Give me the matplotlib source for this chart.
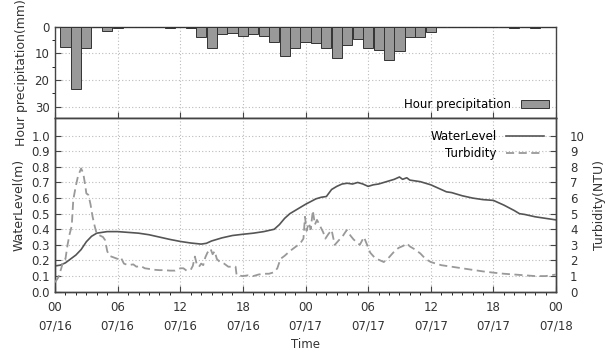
import numpy as np
import matplotlib.pyplot as plt
from matplotlib.ticker import MultipleLocator

plt.rcParams['font.family'] = 'DejaVu Sans'
plt.rcParams['font.size'] = 8.5

# hourly precipitation (mm), hour ending at 1..48 from 07/16 00:00
rain_hours = np.arange(1, 49)
rain_mm = [7.5, 23.5, 7.8, 0, 1.5, 0.6, 0, 0, 0, 0, 0.6, 0, 0.5, 3.75, 7.8, 2.9,
           2.2, 3.4, 2.9, 3.5, 5.9, 11.0, 7.8, 5.7, 6.2, 7.8, 11.6, 6.9, 4.5, 7.8,
           8.7, 12.6, 9.0, 3.75, 3.75, 1.9, 0, 0, 0, 0, 0, 0, 0.3, 0.5, 0.3, 0.5, 0, 0]

# water level (m)
wl_t = [0, 0.5, 1, 1.5, 2, 2.5, 3, 3.5, 4, 4.5, 5, 6, 7, 8, 9, 10, 11, 12, 13, 14,
        14.5, 15, 16, 17, 18, 19, 20, 21, 21.5, 22, 22.5, 23, 24, 25, 25.5, 26, 26.5,
        27, 27.5, 28, 28.5, 29, 29.5, 30, 30.5, 31, 31.5, 32, 32.5, 33, 33.3, 33.7, 34,
        34.5, 35, 35.5, 36, 36.5, 37, 37.5, 38, 38.5, 39, 40, 41, 42, 43, 44, 44.5, 45,
        46, 47, 48]
wl_m = [0.165, 0.17, 0.185, 0.21, 0.235, 0.27, 0.32, 0.355, 0.375, 0.38, 0.385, 0.385,
        0.38, 0.375, 0.365, 0.35, 0.335, 0.322, 0.312, 0.305, 0.31, 0.325, 0.345, 0.36,
        0.368, 0.375, 0.385, 0.40, 0.43, 0.47, 0.50, 0.52, 0.56, 0.595, 0.605, 0.61,
        0.655, 0.675, 0.69, 0.695, 0.69, 0.70, 0.69, 0.675, 0.685, 0.69, 0.70, 0.71,
        0.72, 0.735, 0.72, 0.73, 0.715, 0.71, 0.705, 0.695, 0.685, 0.67, 0.655, 0.64,
        0.635, 0.625, 0.615, 0.60, 0.59, 0.585, 0.555, 0.52, 0.50, 0.495, 0.48, 0.47, 0.46]

# turbidity (NTU)
tb_t = [0, 0.3, 0.6, 0.8, 1.0, 1.2, 1.4, 1.6, 1.75, 2.0, 2.2, 2.5, 2.7, 2.9, 3.0, 3.2,
        3.4, 3.6, 3.8, 4.0, 4.3, 4.6, 4.8, 5.0, 5.2, 5.6, 6.0, 6.3, 6.6, 7.0, 7.5, 7.8,
        8.2, 8.6, 9.1, 9.6, 10, 10.5, 11, 11.5, 12, 12.3, 12.6, 13, 13.2, 13.4, 13.6,
        13.8, 14.0, 14.2, 14.4, 14.6, 14.9, 15.1, 15.3, 15.5, 15.8, 16.2, 16.6, 17.0,
        17.3, 17.4, 18, 18.5, 19, 19.5, 20, 20.5, 21, 21.3, 21.6, 22, 22.5, 23, 23.5,
        23.8, 23.95, 24.1, 24.3, 24.5, 24.7, 24.9, 25.1, 25.4, 25.7, 25.9, 26.2, 26.5,
        26.8, 27.2, 27.6, 27.95, 28.3, 28.6, 29.2, 29.6, 29.9, 30.2, 30.6, 31.0, 31.5,
        32, 32.4, 32.9, 33.4, 33.7, 34.0, 34.5, 35, 35.5, 36, 36.5, 37, 37.5, 38, 39,
        40, 41, 42, 43, 44, 45, 46, 47, 48]
tb_ntu = [0.6, 0.9, 1.5, 2.0, 2.1, 3.0, 3.7, 4.2, 5.9, 6.8, 7.4, 7.9, 7.6, 6.8, 6.3,
          6.2, 5.6, 4.8, 4.2, 3.7, 3.6, 3.5, 3.3, 2.6, 2.3, 2.2, 2.1, 2.2, 1.8, 1.7,
          1.75, 1.6, 1.65, 1.5, 1.45, 1.4, 1.38, 1.38, 1.35, 1.35, 1.5, 1.5, 1.35, 1.4,
          1.65, 2.25, 1.7, 1.6, 1.8, 1.7, 2.2, 2.5, 2.75, 2.4, 2.6, 2.1, 1.9, 1.8, 1.6,
          1.6, 1.6, 1.05, 1.0, 1.05, 1.0, 1.1, 1.15, 1.15, 1.25, 1.5, 2.1, 2.3, 2.6,
          2.85, 3.1, 3.4, 4.8, 3.9, 4.4, 4.0, 5.2, 4.3, 4.6, 4.2, 3.8, 3.4, 3.7, 3.95,
          3.0, 3.3, 3.6, 3.95, 3.6, 3.35, 3.0, 3.5, 3.0, 2.5, 2.2, 2.05, 1.9, 2.2, 2.5,
          2.8, 2.95, 3.1, 2.9, 2.7, 2.45, 2.1, 1.9, 1.8, 1.7, 1.65, 1.6, 1.5, 1.4, 1.3,
          1.22, 1.15, 1.1, 1.05, 1.0, 1.0, 1.1]

tick_hours = np.arange(0, 49, 6)
tick_labels = ['00\n07/16', '06\n07/16', '12\n07/16', '18\n07/16',
               '00\n07/17', '06\n07/17', '12\n07/17', '18\n07/17', '00\n07/18']

txt = '#333333'
frame = '#444444'
grid_kw = dict(color='#bbbbbb', linestyle=(0, (1, 2)), linewidth=0.8)

fig = plt.figure(figsize=(6.06, 3.53), dpi=100)
ax1 = fig.add_axes([0.0908, 0.6657, 0.8267, 0.2587])
ax2 = fig.add_axes([0.0908, 0.1737, 0.8267, 0.4920])
ax3 = ax2.twinx()

def style(ax):
    for s in ax.spines.values():
        s.set_color(frame)
        s.set_linewidth(1.0)
    ax.tick_params(direction='in', colors=frame, labelcolor=txt, width=0.8)
    ax.tick_params(which='major', length=4)
    ax.tick_params(which='minor', length=2.5)

# precipitation panel
ax1.bar(rain_hours, rain_mm, width=0.97, color='#999999', edgecolor='#333333',
        linewidth=0.7, label='Hour precipitation', zorder=3)
ax1.set_xlim(0, 48)
ax1.set_ylim(34.2, 0)
ax1.set_yticks([0, 10, 20, 30])
ax1.yaxis.set_minor_locator(MultipleLocator(5))
ax1.set_xticks(tick_hours)
ax1.xaxis.set_minor_locator(MultipleLocator(1))
ax1.tick_params(labelbottom=False)
ax1.grid(True, **grid_kw)
ax1.set_axisbelow(True)
style(ax1)
ax1.tick_params(axis='y', pad=4)
ax1.set_ylabel('Hour precipitation(mm)', fontsize=9, color=txt, labelpad=5)
ax1.legend(loc='lower right', frameon=False, markerfirst=False,
           handlelength=2.4, handleheight=0.6, borderaxespad=0.2)

# water level / turbidity panel
l1, = ax2.plot(wl_t, wl_m, color='#555555', linewidth=1.2, label='WaterLevel', zorder=3)
l2, = ax3.plot(tb_t, tb_ntu, color='#999999', linewidth=1.3, linestyle=(0, (4.5, 2.5)),
               label='Turbidity', zorder=3)
ax2.set_xlim(0, 48)
ax2.set_ylim(0, 1.113)
ax3.set_ylim(0, 11.13)
ax2.set_yticks(np.arange(0, 1.05, 0.1))
ax2.set_yticklabels([f'{v:.1f}' for v in np.arange(0, 1.05, 0.1)])
ax3.set_yticks(np.arange(0, 11, 1))
ax2.set_xticks(tick_hours)
ax2.set_xticklabels(tick_labels, linespacing=1.5)
ax2.xaxis.set_minor_locator(MultipleLocator(1))
ax2.grid(True, **grid_kw)
style(ax2)
style(ax3)
ax3.tick_params(pad=10)
ax2.tick_params(axis='x', pad=7)
ax2.set_ylabel('WaterLevel(m)', fontsize=9, color=txt, labelpad=4)
ax3.set_ylabel('Turbidity(NTU)', fontsize=9, color=txt, labelpad=6)
ax2.set_xlabel('Time', fontsize=8.5, color=txt, labelpad=4)
ax3.legend([l1, l2], ['WaterLevel', 'Turbidity'], loc='upper right', frameon=False,
           markerfirst=False, handlelength=3.2, borderaxespad=0.6,
           labelspacing=0.35)

fig.savefig('out.png', dpi=100)
